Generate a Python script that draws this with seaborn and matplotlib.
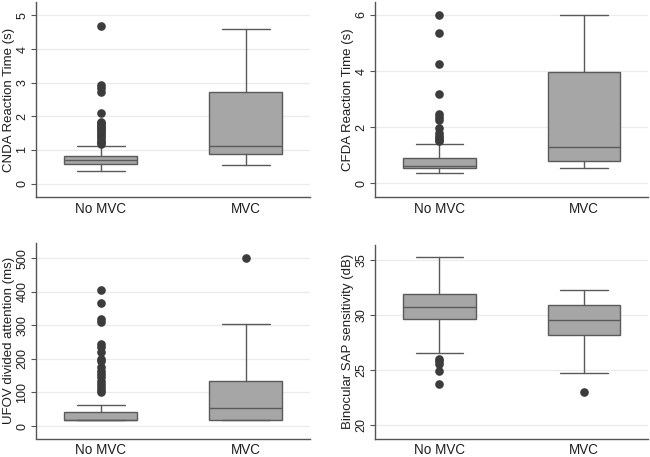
import matplotlib
matplotlib.use("Agg")
import matplotlib.pyplot as plt
import seaborn as sns

groups = ["No MVC", "MVC"]

# Panel 1: CNDA Reaction Time (s)
cnda_label = "CNDA Reaction Time (s)"
cnda_q1 = [0.57, 0.89]
cnda_med = [0.69, 1.11]
cnda_q3 = [0.82, 2.73]
cnda_lo = [0.37, 0.56]
cnda_hi = [1.12, 4.60]
cnda_out_nomvc = [4.68, 2.93, 2.85, 2.73, 2.10, 1.84, 1.79, 1.74, 1.69, 1.64, 1.58,
                  1.52, 1.46, 1.40, 1.34, 1.28, 1.23, 1.18]
cnda_out_mvc = []
cnda_ticks = [0, 1, 2, 3, 4, 5]
cnda_ylim = (-0.4, 5.4)

# Panel 2: CFDA Reaction Time (s)
cfda_label = "CFDA Reaction Time (s)"
cfda_q1 = [0.56, 0.80]
cfda_med = [0.63, 1.29]
cfda_q3 = [0.89, 3.96]
cfda_lo = [0.38, 0.55]
cfda_hi = [1.40, 6.00]
cfda_out_nomvc = [6.00, 5.34, 4.25, 3.18, 2.48, 2.36, 2.24, 1.96, 1.80, 1.70,
                  1.62, 1.55, 1.49]
cfda_out_mvc = []
cfda_ticks = [0, 2, 4, 6]
cfda_ylim = (-0.49, 6.46)

# Panel 3: UFOV divided attention (ms)
ufov_label = "UFOV divided attention (ms)"
ufov_q1 = [17, 17]
ufov_med = [17, 54]
ufov_q3 = [43, 133]
ufov_lo = [17, 17]
ufov_hi = [63, 305]
ufov_out_nomvc = [404, 365, 320, 311, 243, 235, 220, 200, 195, 175, 165, 155,
                  145, 135, 125, 115, 107, 100]
ufov_out_mvc = [500]
ufov_ticks = [0, 100, 200, 300, 400, 500]
ufov_ylim = (-37, 545)

# Panel 4: Binocular SAP sensitivity (dB)
sap_label = "Binocular SAP sensitivity (dB)"
sap_q1 = [29.66, 28.15]
sap_med = [30.77, 29.54]
sap_q3 = [31.89, 30.87]
sap_lo = [26.58, 24.77]
sap_hi = [35.24, 32.25]
sap_out_nomvc = [26.05, 25.80, 25.60, 24.95, 23.70]
sap_out_mvc = [23.02]
sap_ticks = [20, 25, 30, 35]
sap_ylim = (18.8, 36.4)

sns.set_theme(style="white")
plt.rcParams["font.family"] = ["Liberation Sans", "DejaVu Sans"]

EDGE = "#5a5a5a"
FILL = "#a6a6a6"
DOT = "#3c3c3c"
SPINE = "#555555"
TEXT = "#1e1e1e"

fig = plt.figure(figsize=(6.5, 4.57), dpi=100)

panels = [
    ([36 / 650, 1 - 197 / 457, 274 / 650, 195 / 457], cnda_label, cnda_q1, cnda_med, cnda_q3,
     cnda_lo, cnda_hi, [cnda_out_nomvc, cnda_out_mvc], cnda_ticks, cnda_ylim, 3.5),
    ([375 / 650, 1 - 197 / 457, 273 / 650, 195 / 457], cfda_label, cfda_q1, cfda_med, cfda_q3,
     cfda_lo, cfda_hi, [cfda_out_nomvc, cfda_out_mvc], cfda_ticks, cfda_ylim, 3.5),
    ([36 / 650, 1 - 438.5 / 457, 274 / 650, 195.5 / 457], ufov_label, ufov_q1, ufov_med, ufov_q3,
     ufov_lo, ufov_hi, [ufov_out_nomvc, ufov_out_mvc], ufov_ticks, ufov_ylim, 3),
    ([375 / 650, 1 - 438.5 / 457, 273 / 650, 194 / 457], sap_label, sap_q1, sap_med, sap_q3,
     sap_lo, sap_hi, [sap_out_nomvc, sap_out_mvc], sap_ticks, sap_ylim, 3),
]

for rect, label, q1, med, q3, lo, hi, outs, ticks, ylim, xpad in panels:
    ax = fig.add_axes(rect)
    stats = []
    for i, g in enumerate(groups):
        stats.append(dict(label=g, q1=q1[i], med=med[i], q3=q3[i],
                          whislo=lo[i], whishi=hi[i], fliers=outs[i]))
    ax.bxp(stats, positions=[0, 1], widths=0.5, capwidths=0.33,
           patch_artist=True, showfliers=True,
           boxprops=dict(facecolor=FILL, edgecolor=EDGE, linewidth=1.0),
           medianprops=dict(color=EDGE, linewidth=1.0),
           whiskerprops=dict(color=EDGE, linewidth=1.0),
           capprops=dict(color=EDGE, linewidth=1.0),
           flierprops=dict(marker="o", markersize=5.2, markerfacecolor=DOT,
                           markeredgecolor=DOT, linestyle="none"))
    ax.set_xlim(-0.446, 1.444)
    ax.set_ylim(*ylim)
    ax.set_yticks(ticks)
    ax.set_yticklabels([str(t) for t in ticks], rotation=90, va="center")
    ax.set_xticks([0, 1])
    ax.set_xticklabels(groups, fontsize=9.75, color=TEXT)
    ax.set_ylabel(label, fontsize=9.5, color=TEXT, va="baseline")
    ax.yaxis.set_label_coords(-24 / (rect[2] * 650), 0.5)
    ax.yaxis.grid(True, color="#ebebeb", linewidth=0.9)
    ax.xaxis.grid(False)
    ax.set_axisbelow(True)
    for s in ["top", "right"]:
        ax.spines[s].set_visible(False)
    for s in ["left", "bottom"]:
        ax.spines[s].set_color(SPINE)
        ax.spines[s].set_linewidth(1.0)
    ax.tick_params(axis="y", left=True, length=3.6, width=0.8, color=SPINE,
                   labelsize=9, labelcolor=TEXT, pad=2)
    ax.tick_params(axis="x", bottom=False, length=0, pad=xpad)

fig.savefig("out.png", dpi=100)
